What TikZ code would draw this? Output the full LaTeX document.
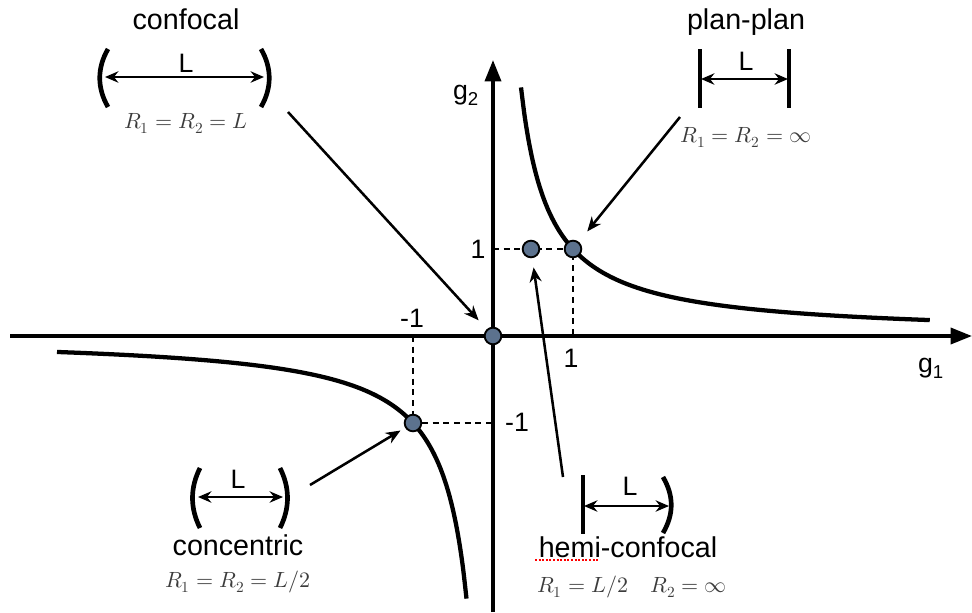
\documentclass[tikz,border=0pt]{standalone}
\usepackage{fontspec}
\setmainfont{Liberation Sans}
\usepackage{unicode-math}
\setmathfont{Latin Modern Math}
\usetikzlibrary{arrows.meta}
\definecolor{dotblue}{RGB}{92,114,142}
\definecolor{mathgray}{RGB}{60,60,60}
\begin{document}
\begin{tikzpicture}[x=0.75pt,y=-0.75pt,
  axisline/.style={line width=2.6pt,-{Triangle[length=16pt,width=12pt]}},
  curve/.style={line width=3.2pt},
  mirror/.style={line width=3.5pt},
  span/.style={line width=1.9pt,{Stealth[length=10pt,width=8.5pt]}-{Stealth[length=10pt,width=8.5pt]}},
  pointer/.style={line width=1.9pt,-{Stealth[length=11pt,width=9pt]}},
  guide/.style={line width=1.6pt,dash pattern=on 4.5pt off 3.5pt},
  dot/.style={circle,draw=black,line width=1.4pt,fill=dotblue,minimum size=12.5pt,inner sep=0pt},
  title/.style={font=\fontsize{21.5}{24}\selectfont,anchor=base},
  lab/.style={font=\fontsize{20}{23}\selectfont,anchor=base},
  tick/.style={font=\fontsize{20}{23}\selectfont,anchor=base},
  formula/.style={font=\fontsize{16.5}{19}\selectfont,text=mathgray,anchor=base}]
\useasboundingbox (0,0) rectangle (972,612);
% axes
\coordinate (xs) at (10,336);
\coordinate (xe) at (972,336);
\coordinate (ys) at (493,612);
\coordinate (ye) at (493,60);
\draw[axisline] (xs) -- (xe);
\draw[axisline] (ys) -- (ye);
% hyperbola g1 g2 = 1, unit x=80, unit y=87
\draw[curve] plot[domain=0.35:5.46,samples=120,smooth] ({493+80*\x},{336-87/\x});
\draw[curve] plot[domain=-5.45:-0.33,samples=120,smooth] ({493+80*\x},{336-87/\x});
% guides
\coordinate (ya1) at (493,249);
\coordinate (xa1) at (573,336);
\coordinate (xam1) at (413,336);
\coordinate (yam1) at (493,423);
\draw[guide] (ya1) -- (573,249) -- (xa1);
\draw[guide] (xam1) -- (413,423) -- (yam1);
% dots
\node[dot] (pO) at (493,336) {};
\node[dot] (pPP) at (573,249) {};
\node[dot] (pHC) at (531,249) {};
\node[dot] (pCC) at (413,423) {};
% tick labels
\node[tick] (t1y) at (478,258) {1};
\node[tick] (tm1x) at (412,327) {-1};
\node[tick] (t1x) at (571,367) {1};
\node[tick] (tm1y) at (517,431) {-1};
\node[tick] (g1) at (931,372) {g\textsubscript{1}};
\node[tick] (g2) at (466,99) {g\textsubscript{2}};
% confocal
\node[title] (tconf) at (186,29) {confocal};
\draw[mirror] (108,49) .. controls (97,68) and (97,88) .. (108,107);
\draw[mirror] (261,49) .. controls (272,68) and (272,88) .. (261,107);
\coordinate (confa) at (105,77);
\coordinate (confb) at (264,77);
\draw[span] (confa) -- (confb);
\node[lab] (Lconf) at (186,72) {L};
\node[formula] (fconf) at (186,128) {$R_1=R_2=L$};
% plan-plan
\node[title] (tpp) at (746,29) {plan-plan};
\draw[mirror] (700,49) -- (700,108);
\draw[mirror] (789,49) -- (789,108);
\coordinate (ppa) at (701,79);
\coordinate (ppb) at (788,79);
\draw[span] (ppa) -- (ppb);
\node[lab] (Lpp) at (746,70) {L};
\node[formula] (fpp) at (746,142) {$R_1=R_2=\infty$};
% concentric
\draw[mirror] (200,468) .. controls (190,488) and (190,508) .. (200,528);
\draw[mirror] (280,468) .. controls (290,488) and (290,508) .. (280,528);
\coordinate (cca) at (198,497);
\coordinate (ccb) at (283,497);
\draw[span] (cca) -- (ccb);
\node[lab] (Lcc) at (238,488) {L};
\node[title] (tcc) at (238,555) {concentric};
\node[formula] (fcc) at (238,587) {$R_1=R_2=L/2$};
% hemi-confocal
\draw[mirror] (583,475) -- (583,534);
\draw[mirror] (663,477) .. controls (674,496) and (674,514) .. (663,533);
\coordinate (hca) at (584,506);
\coordinate (hcb) at (669,506);
\draw[span] (hca) -- (hcb);
\node[lab] (Lhc) at (630,495) {L};
\node[title] (thc) at (628,557) {hemi-confocal};
\coordinate (sqa) at (535,560);
\coordinate (sqb) at (598,560);
\draw[red,line width=0.9pt,dash pattern=on 1.5pt off 1.2pt] (sqa) -- (sqb);
\node[formula] (fhc) at (632,592) {$R_1=L/2\quad R_2=\infty$};
% pointers
\coordinate (sconf) at (288,112);
\coordinate (spp) at (680,117);
\coordinate (shc) at (563,477);
\coordinate (scc) at (310,485);
\draw[pointer,shorten >=9pt] (sconf) -- (pO);
\draw[pointer,shorten >=10pt] (spp) -- (pPP);
\draw[pointer,shorten >=7pt] (shc) -- (pHC);
\draw[pointer,shorten >=4pt] (scc) -- (pCC);
\end{tikzpicture}
\end{document}
